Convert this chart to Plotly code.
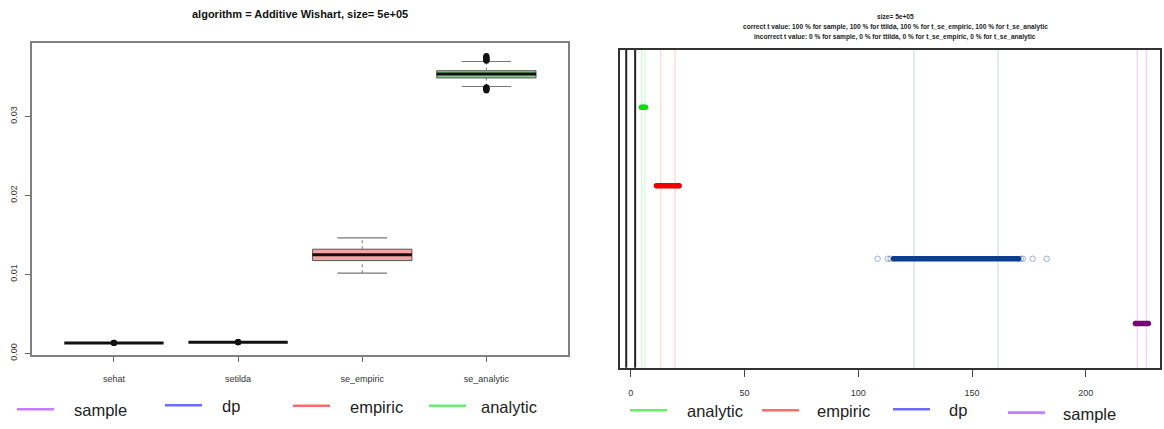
import plotly.graph_objects as go

W, H = 1164, 429

# ---- left panel: standard-error box plots ----
categories = ["sehat", "setilda", "se_empiric", "se_analytic"]
positions = [1, 2, 3, 4]
whisk_lo = [0.00132, 0.00141, 0.01015, 0.03378]
q1 = [0.00132, 0.00141, 0.01174, 0.03487]
median = [0.00132, 0.00141, 0.01248, 0.03537]
q3 = [0.00132, 0.00141, 0.01318, 0.03578]
whisk_hi = [0.00132, 0.00141, 0.01461, 0.03695]
box_fill = ["#ffffff", "#ffffff", "#f4a3a3", "#8ccf8c"]
outliers = [
    [0.00130, 0.00131, 0.00132, 0.00133, 0.00134],
    [0.00139, 0.00140, 0.00141, 0.00142, 0.00143],
    [],
    [0.03703, 0.03710, 0.03716, 0.03723, 0.03730, 0.03738, 0.03746, 0.03755, 0.03764,
     0.03370, 0.03364, 0.03357, 0.03350, 0.03343, 0.03336, 0.03329],
]
y_ticks = [0.0, 0.01, 0.02, 0.03]
y_ticktext = ["0.00", "0.01", "0.02", "0.03"]

# ---- right panel: t statistics per estimator ----
groups = ["analytic", "empiric", "dp", "sample"]
group_level = [0.82, 0.573, 0.343, 0.139]
band_lo = [4.7, 11.3, 115.5, 221.8]
band_hi = [6.5, 21.3, 170.5, 227.5]
sparse_t = [[], [], [108.5, 113.0, 114.2, 171.4, 172.3, 176.6, 182.8], []]
ref_lo = [4.8, 13.2, 124.5, 222.6]
ref_hi = [6.3, 19.5, 161.4, 226.6]
t_crit = [-1.96, 1.96]
point_color = ["#00e000", "#f00000", "#0b3d91", "#7a007a"]
ref_color = ["rgba(0,230,0,0.18)", "rgba(255,0,0,0.17)",
             "rgba(30,80,170,0.2)", "rgba(128,0,128,0.17)"]
x_ticks = [0, 50, 100, 150, 200]

# legend entries under each panel
legend_left = ["sample", "dp", "empiric", "analytic"]
legend_right = ["analytic", "empiric", "dp", "sample"]
legend_color = {"sample": "#c77cff", "dp": "#6b6bff",
                "empiric": "#ff6b6b", "analytic": "#6bef6b"}

FONT = "Liberation Sans, Arial, sans-serif"
BOX_HALF = 0.4

fig = go.Figure()

for i, p in enumerate(positions):
    xa = dict(xaxis="x", yaxis="y", showlegend=False, hoverinfo="skip")
    if q3[i] > q1[i]:
        fig.add_trace(go.Scatter(
            x=[p - BOX_HALF, p + BOX_HALF, p + BOX_HALF, p - BOX_HALF, p - BOX_HALF],
            y=[q1[i], q1[i], q3[i], q3[i], q1[i]],
            mode="lines", fill="toself", fillcolor=box_fill[i],
            line=dict(color="#555555", width=1), **xa))
        # dashed whiskers and caps
        for a, b in ((whisk_lo[i], q1[i]), (q3[i], whisk_hi[i])):
            fig.add_trace(go.Scatter(x=[p, p], y=[a, b], mode="lines",
                                     line=dict(color="#777777", width=1, dash="dot"), **xa))
        for v in (whisk_lo[i], whisk_hi[i]):
            fig.add_trace(go.Scatter(x=[p - BOX_HALF / 2, p + BOX_HALF / 2], y=[v, v],
                                     mode="lines", line=dict(color="#777777", width=1.2), **xa))
    fig.add_trace(go.Scatter(x=[p - BOX_HALF, p + BOX_HALF], y=[median[i], median[i]],
                             mode="lines", line=dict(color="#111111", width=3), **xa))
    if outliers[i]:
        fig.add_trace(go.Scatter(x=[p] * len(outliers[i]), y=outliers[i], mode="markers",
                                 marker=dict(symbol="circle", size=6,
                                             color="#111111", line=dict(width=0)), **xa))

# right panel: reference lines
for v in t_crit:
    fig.add_shape(type="line", xref="x2", yref="y2 domain", x0=v, x1=v, y0=0, y1=1,
                  line=dict(color="#222222", width=2))
for i in range(len(groups)):
    for v in (ref_lo[i], ref_hi[i]):
        fig.add_shape(type="line", xref="x2", yref="y2 domain", x0=v, x1=v, y0=0, y1=1,
                      line=dict(color=ref_color[i], width=1.2))

for i, g in enumerate(groups):
    xb = dict(xaxis="x2", yaxis="y2", showlegend=False, hoverinfo="skip")
    fig.add_trace(go.Scatter(x=[band_lo[i], band_hi[i]], y=[group_level[i]] * 2,
                             mode="lines+markers", line=dict(color=point_color[i], width=5.5),
                             marker=dict(size=5.5, color=point_color[i]), **xb))
    if sparse_t[i]:
        fig.add_trace(go.Scatter(x=sparse_t[i], y=[group_level[i]] * len(sparse_t[i]),
                                 mode="markers",
                                 marker=dict(symbol="circle-open", size=5.5,
                                             color="rgba(20,60,150,0.4)", line=dict(width=1)),
                                 **xb))

annotations = []


def legend_row(names, line_x, text_x, ys):
    for name, lx, tx, yy in zip(names, line_x, text_x, ys):
        fig.add_shape(type="line", xref="paper", yref="paper",
                      x0=lx / W, x1=(lx + 37) / W, y0=1 - yy / H, y1=1 - yy / H,
                      line=dict(color=legend_color[name], width=2.6))
        annotations.append(dict(xref="paper", yref="paper", x=tx / W, y=1 - (yy + 1) / H,
                                text=name, showarrow=False, xanchor="left", yanchor="middle",
                                font=dict(family=FONT, size=16.5, color="#222222")))


legend_row(legend_left, [17, 165, 293, 429], [72, 220, 348, 479], [415, 411, 411.5, 411.5])
legend_row(legend_right, [630, 762, 893, 1008], [685, 815, 947, 1061], [416, 416, 415, 418.5])

annotations.append(dict(xref="paper", yref="paper", x=300 / W, y=1 - 13.7 / H,
                        text="<b>algorithm = Additive Wishart, size= 5e+05</b>", showarrow=False,
                        xanchor="center", yanchor="middle",
                        font=dict(family=FONT, size=11, color="#111111")))
right_title = [
    "size= 5e+05",
    "correct t value: 100 % for sample, 100 % for ttilda, 100 % for t_se_empiric, 100 % for t_se_analytic",
    "incorrect t value: 0 % for sample, 0 % for ttilda, 0 % for t_se_empiric, 0 % for t_se_analytic",
]
for line, yy in zip(right_title, [17, 27.5, 37.4]):
    annotations.append(dict(xref="paper", yref="paper", x=895 / W, y=1 - yy / H,
                            text="<b>" + line + "</b>", showarrow=False,
                            xanchor="center", yanchor="middle",
                            font=dict(family=FONT, size=6.6, color="#222222")))

fig.update_layout(
    width=W, height=H,
    margin=dict(l=0, r=0, t=0, b=0),
    paper_bgcolor="white", plot_bgcolor="white",
    font=dict(family=FONT, size=9, color="#333333"),
    showlegend=False,
    xaxis=dict(domain=[32 / W, 568.3 / W], range=[0.34, 4.66],
               tickvals=positions, ticktext=categories,
               ticks="outside", ticklen=5, tickcolor="#666666", ticklabelstandoff=9,
               showline=True, mirror=True, linecolor="#808080", linewidth=1.5,
               showgrid=False, zeroline=False, tickfont=dict(size=9, color="#333333")),
    yaxis=dict(domain=[1 - 360 / H, 1 - 43.3 / H], range=[-0.00021, 0.03933],
               tickvals=y_ticks, ticktext=y_ticktext, tickangle=-90,
               ticks="outside", ticklen=5, tickcolor="#666666", ticklabelstandoff=5,
               showline=True, mirror=True, linecolor="#808080", linewidth=1.5,
               showgrid=False, zeroline=False, tickfont=dict(size=9, color="#333333")),
    xaxis2=dict(domain=[620 / W, 1160 / W], range=[-4.7, 232.6], anchor="y2",
                tickvals=x_ticks, ticks="outside", ticklen=7, tickcolor="#444444",
                ticklabelstandoff=8,
                showline=True, mirror=True, linecolor="#333333", linewidth=2,
                showgrid=False, zeroline=False, tickfont=dict(size=9, color="#333333")),
    yaxis2=dict(domain=[1 - 373 / H, 1 - 50.7 / H], range=[0, 1], anchor="x2",
                showticklabels=False, ticks="",
                showline=True, mirror=True, linecolor="#333333", linewidth=2,
                showgrid=False, zeroline=False),
    annotations=annotations,
)

fig.write_html("out.html")
